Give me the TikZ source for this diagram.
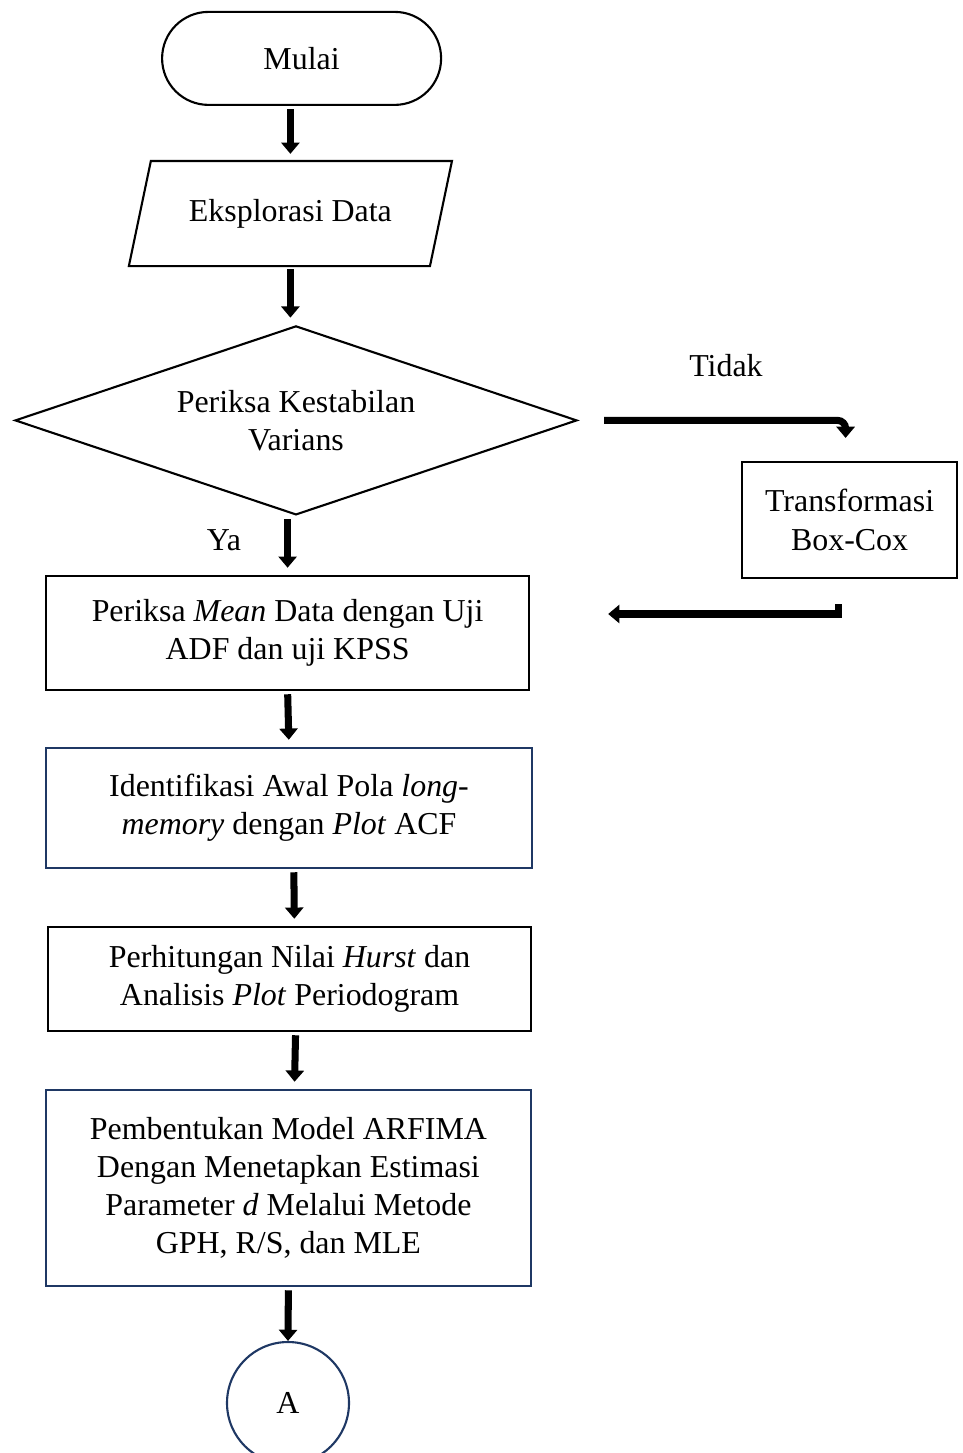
\documentclass[tikz,border=0pt]{standalone}
\usepackage{fontspec}
\setmainfont{Liberation Serif}
\usepackage{xcolor}
\usetikzlibrary{shapes.geometric, arrows.meta}

\definecolor{navy}{HTML}{1F3864}

\begin{document}
\begin{tikzpicture}[
		font=\fontsize{22.7pt}{27.2pt}\selectfont,
		box/.style={draw, line width=1.5pt, align=center, inner sep=0pt},
		navybox/.style={box, draw=navy},
		arr/.style={line width=5pt, -{Triangle[width=0.45cm, length=0.28cm]}, shorten <=0.08cm, shorten >=0.18cm},
	]
				\useasboundingbox (0, 0) rectangle (24.05, -36.325);
				% Nodes:
				\node[box, rounded corners=1.16cm, minimum width=6.975cm, minimum height=2.325cm] (mulai) at (7.54, -1.46){Mulai};
				\node[box, draw=none, minimum width=7.475cm, minimum height=2.575cm] (eksplorasi) at (7.26, -5.34){Eksplorasi Data};
				\draw[line width=1.5pt] ([xshift=-0.275cm]eksplorasi.south west) -- ([xshift=0.275cm]eksplorasi.north west) -- ([xshift=0.275cm]eksplorasi.north east) -- ([xshift=-0.275cm]eksplorasi.south east) -- cycle;
				\node[box, diamond, aspect=3, minimum width=14.05cm, minimum height=4.725cm] (varians) at (7.4, -10.51){Periksa Kestabilan\\Varians};
				\node[box, minimum width=5.375cm, minimum height=2.9cm] (boxcox) at (21.24, -13.0){Transformasi\\Box-Cox};
				\node[box, minimum width=12.075cm, minimum height=2.85cm] (mean) at (7.19, -15.825){Periksa \textit{Mean} Data dengan Uji\\ADF dan uji KPSS};
				\node[navybox, minimum width=12.15cm, minimum height=3cm] (acf) at (7.225, -20.2){Identifikasi Awal Pola \textit{long-}\\\textit{memory} dengan \textit{Plot} ACF};
				\node[box, minimum width=12.075cm, minimum height=2.6cm] (hurst) at (7.24, -24.475){Perhitungan Nilai \textit{Hurst} dan\\Analisis \textit{Plot} Periodogram};
				\node[navybox, minimum width=12.125cm, minimum height=4.9cm] (arfima) at (7.21, -29.7){Pembentukan Model ARFIMA\\Dengan Menetapkan Estimasi\\Parameter \textit{d} Melalui Metode\\GPH, R/S, dan MLE};
				\node[navybox, circle, minimum size=3.05cm] (konektor) at (7.2, -35.075){A};
				\node (tidak) at (18.15, -9.15){Tidak};
				\node (ya) at (5.6, -13.5){Ya};
				% Arrows:
				\draw[arr] (mulai.south -| eksplorasi.north) -- (eksplorasi.north);
				\draw[arr] (eksplorasi.south) -- (eksplorasi.south |- varians.north);
				\draw[arr] (varians.south -| mean.north) -- (mean.north);
				\draw[arr] (mean.south) -- (acf.north);
				\draw[arr] ([xshift=0.12cm]acf.south) -- ([xshift=0.12cm]hurst.north);
				\draw[arr] ([xshift=0.15cm]hurst.south) -- ([xshift=0.15cm]arfima.north);
				\draw[arr, shorten >=0pt] (arfima.south) -- (konektor.north);
				\draw[arr, rounded corners=0.2cm, shorten <=0pt, shorten >=0pt] ([xshift=0.65cm]varians.east) -| ([xshift=-0.1cm, yshift=0.575cm]boxcox.north);
				\draw[arr, shorten <=0pt, shorten >=0pt] ([xshift=-0.29cm, yshift=-0.625cm]boxcox.south) |- ([xshift=1.95cm, yshift=0.475cm]mean.east);
\end{tikzpicture}
\end{document}
